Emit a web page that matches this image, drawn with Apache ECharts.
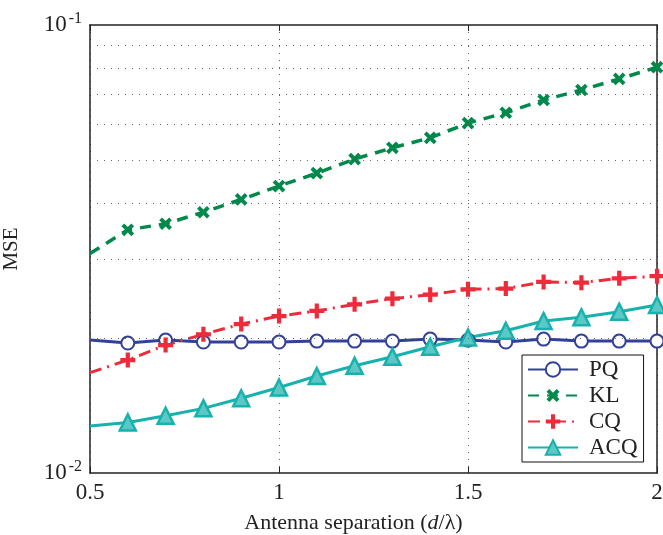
<!DOCTYPE html>
<html>
<head>
<meta charset="utf-8">
<script src="https://cdn.jsdelivr.net/npm/echarts@6/dist/echarts.min.js"></script>
<style>
html, body { margin: 0; padding: 0; background: #fff; }
#chart { width: 663px; height: 535px; }
</style>
</head>
<body>
<div id="chart"></div>
<script>
// antenna separation d/lambda
const separation = [0.5, 0.6, 0.7, 0.8, 0.9, 1.0, 1.1, 1.2, 1.3, 1.4, 1.5, 1.6, 1.7, 1.8, 1.9, 2.0];
const pqMse = [0.0198, 0.0195, 0.0198, 0.0196, 0.0196, 0.0196, 0.0197, 0.0197, 0.0197, 0.0199, 0.0198, 0.0196, 0.0199, 0.0197, 0.0197, 0.0197];
const klMse = [0.0309, 0.0349, 0.0360, 0.0382, 0.0408, 0.0437, 0.0467, 0.0502, 0.0532, 0.0560, 0.0604, 0.0637, 0.0680, 0.0716, 0.0758, 0.0805];
const cqMse = [0.01675, 0.01787, 0.0193, 0.0204, 0.0215, 0.0224, 0.0230, 0.0238, 0.0245, 0.0250, 0.0257, 0.0258, 0.0267, 0.0266, 0.0272, 0.0275];
const acqMse = [0.01273, 0.01297, 0.01342, 0.01394, 0.01468, 0.01552, 0.01646, 0.01735, 0.01818, 0.01914, 0.02007, 0.02078, 0.02184, 0.02226, 0.02291, 0.02371];
const minorGrid = [0.02, 0.03, 0.04, 0.05, 0.06, 0.07, 0.08, 0.09];

const serif = 'Liberation Serif';
const plusPath = 'path://M3.6,0 H6.4 V3.6 H10 V6.4 H6.4 V10 H3.6 V6.4 H0 V3.6 H3.6 Z';

// first point sits on the axis and has no marker
function toData(vals) {
    return vals.map((v, i) => i === 0 ? { value: [separation[i], v], symbol: 'none' } : [separation[i], v]);
}

const dotted = { type: [1, 6], color: '#666', width: 1 };

const option = {
    animation: false,
    backgroundColor: '#fff',
    grid: { left: 90, right: 6, top: 25, bottom: 62, outerBoundsMode: 'none' },
    legend: {
        data: ['PQ', 'KL', 'CQ', 'ACQ'],
        orient: 'vertical',
        left: 522,
        top: 355,
        padding: [3, 6, 3, 5],
        itemWidth: 50,
        itemHeight: 18,
        itemGap: 3,
        backgroundColor: '#fff',
        borderColor: '#111',
        borderWidth: 1,
        borderRadius: 0,
        textStyle: { fontFamily: serif, fontSize: 23, color: '#222', lineHeight: 18, height: 18, padding: [0, 0, 0, 6] }
    },
    xAxis: [
        {
            type: 'value',
            min: 0.5,
            max: 2,
            interval: 0.5,
            name: '{n|Antenna separation (}{i|d}{n|/λ)}',
            nameLocation: 'middle',
            nameGap: 39,
            nameTextStyle: {
                padding: [0, 40, 0, 0],
                rich: {
                    n: { fontFamily: serif, fontSize: 22, color: '#222' },
                    i: { fontFamily: serif, fontSize: 22, color: '#222', fontStyle: 'italic' }
                }
            },
            axisLine: { lineStyle: { color: '#222', width: 1.5 } },
            axisTick: { inside: true, length: 6, lineStyle: { color: '#222' } },
            axisLabel: {
                fontFamily: serif,
                fontSize: 23,
                color: '#222',
                margin: 8,
                formatter: v => String(v)
            },
            splitLine: { show: true, lineStyle: dotted }
        },
        {
            type: 'value',
            position: 'top',
            min: 0.5,
            max: 2,
            interval: 0.5,
            axisLine: { show: true, lineStyle: { color: '#222', width: 1.5 } },
            axisTick: { show: true, inside: true, length: 6, lineStyle: { color: '#222' } },
            axisLabel: { show: false },
            splitLine: { show: false }
        }
    ],
    yAxis: [
        {
            type: 'log',
            logBase: 10,
            min: 0.01,
            max: 0.1,
            name: 'MSE',
            nameLocation: 'middle',
            nameGap: 68,
            nameTextStyle: { fontFamily: serif, fontSize: 21, color: '#222' },
            axisLine: { show: true, lineStyle: { color: '#222', width: 1.5 } },
            axisTick: { show: false },
            axisLabel: {
                margin: 8,
                formatter: v => '{b|10}{s|' + Math.round(Math.log10(v)) + '}',
                rich: {
                    b: { fontFamily: serif, fontSize: 23, color: '#222' },
                    s: { fontFamily: serif, fontSize: 16, color: '#222', padding: [0, 0, 12, 2] }
                }
            },
            splitLine: { show: false }
        },
        {
            type: 'log',
            logBase: 10,
            min: 0.01,
            max: 0.1,
            position: 'right',
            axisLine: { show: true, lineStyle: { color: '#222', width: 1.5 } },
            axisTick: { show: false },
            axisLabel: { show: false },
            splitLine: { show: false }
        }
    ],
    series: [
        {
            type: 'line',
            data: [],
            z: 1,
            silent: true,
            markLine: {
                silent: true,
                symbol: ['none', 'none'],
                label: { show: false },
                lineStyle: dotted,
                data: minorGrid.map(v => ({ yAxis: v }))
            }
        },
        {
            name: 'PQ',
            type: 'line',
            data: toData(pqMse),
            symbol: 'emptyCircle',
            symbolSize: 13,
            lineStyle: { color: '#33409a', width: 3 },
            itemStyle: { color: '#33409a', borderWidth: 3.2 }
        },
        {
            name: 'KL',
            type: 'line',
            data: toData(klMse),
            symbol: plusPath,
            symbolSize: 14,
            symbolRotate: 45,
            lineStyle: { color: '#00894b', width: 3.5, type: [11, 8] },
            itemStyle: { color: '#00894b' }
        },
        {
            name: 'CQ',
            type: 'line',
            data: toData(cqMse),
            symbol: plusPath,
            symbolSize: 15,
            lineStyle: { color: '#ee2b3b', width: 3, type: [12, 6, 2, 6] },
            itemStyle: { color: '#ee2b3b' }
        },
        {
            name: 'ACQ',
            type: 'line',
            data: toData(acqMse),
            symbol: 'triangle',
            symbolSize: 16,
            lineStyle: { color: '#17b1ae', width: 3 },
            itemStyle: { color: '#5cc8c5', borderColor: '#17b1ae', borderWidth: 2.5 }
        }
    ]
};

const myChart = echarts.init(document.getElementById('chart'));
myChart.setOption(option);
</script>
</body>
</html>
